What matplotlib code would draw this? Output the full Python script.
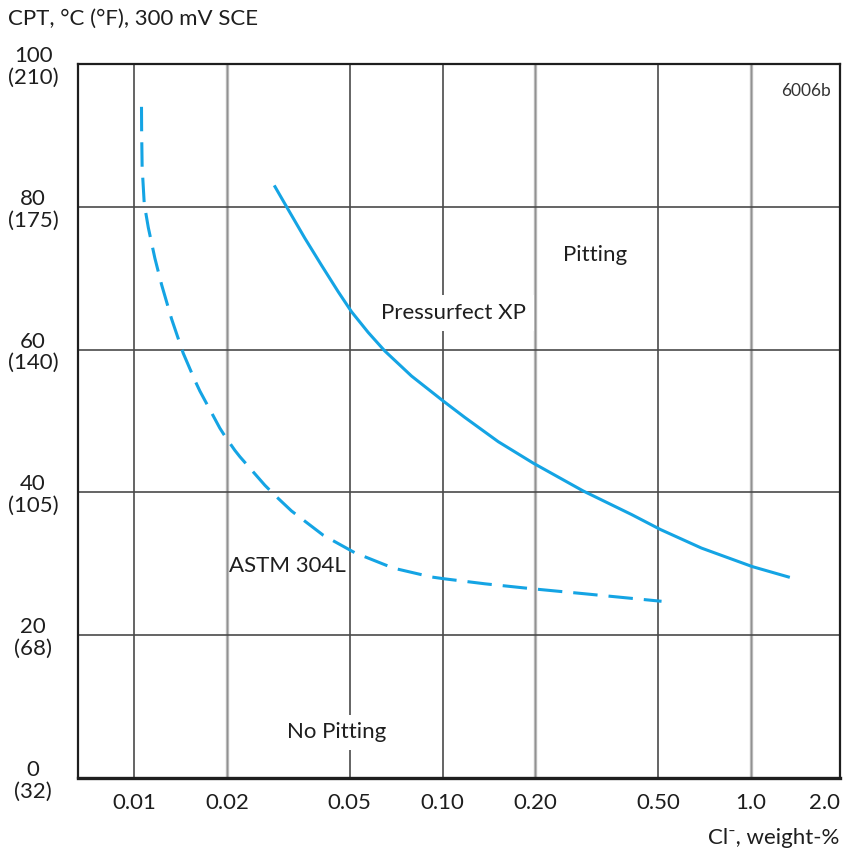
import matplotlib
matplotlib.use("Agg")
import matplotlib.pyplot as plt
from matplotlib.ticker import FixedLocator, NullLocator

plt.rcParams['font.family'] = ['Lato', 'DejaVu Sans']

# ---- data ----
xp_cl = [0.02847, 0.03161, 0.03578, 0.04053, 0.04590, 0.05070, 0.05742, 0.06501,
         0.07932, 0.1005, 0.1181, 0.1516, 0.1968, 0.2858, 0.4100, 0.5087,
         0.6910, 1.011, 1.336]
xp_cpt = [83.0, 79.6, 75.6, 71.8, 68.1, 65.3, 62.4, 59.8,
          56.3, 52.8, 50.5, 47.1, 44.1, 40.2, 36.9, 34.8,
          32.2, 29.6, 28.1]

astm_cl = [0.01057, 0.01058, 0.01062, 0.01079, 0.01112, 0.01168, 0.01228, 0.01323,
           0.01443, 0.01574, 0.01634, 0.01897, 0.01969, 0.02121, 0.02203, 0.02655,
           0.02860, 0.03239, 0.04105, 0.05195, 0.06920, 0.09211, 0.1013, 0.1371,
           0.1957, 0.2892, 0.5128]
astm_cpt = [94.0, 90.8, 85.6, 80.4, 77.1, 72.8, 69.1, 64.3,
            59.5, 55.7, 54.2, 49.0, 47.9, 45.9, 45.0, 41.0,
            39.6, 37.4, 34.0, 31.55, 29.4, 28.15, 27.9, 27.2,
            26.5, 25.8, 24.75]

x_ticks = [0.01, 0.02, 0.05, 0.10, 0.20, 0.50, 1.0, 2.0]
x_labels = ['0.01', '0.02', '0.05', '0.10', '0.20', '0.50', '1.0', '2.0']
y_ticks = [0, 20, 40, 60, 80, 100]
y_labels = ['0\n(32)', '20\n(68)', '40\n(105)', '60\n(140)', '80\n(175)', '100\n(210)']
dark_vgrid = [0.01, 0.05, 0.10, 0.50]
light_vgrid = [0.02, 0.20, 1.0]
hgrid = [20, 40, 60, 80]

blue = '#14A4E4'
ink = '#1e1e1e'
fs = 16

fig = plt.figure(figsize=(8.43, 8.52), dpi=100)
ax = fig.add_axes([78/843, 1-778/852, (840-78)/843, (778-64)/852])
ax.set_xscale('log')
xmin, xmax = 0.00658, 1.943
ax.set_xlim(xmin, xmax)
ax.set_ylim(0, 100)

for v in light_vgrid:
    ax.axvline(v, color='#b8b8b8', lw=2.4, zorder=1)
    ax.axvline(v, color='#8a8a8a', lw=0.6, zorder=1)
for v in dark_vgrid:
    ax.axvline(v, color='#4a4a4a', lw=1.2, zorder=1)
for h in hgrid:
    ax.axhline(h, color='#4a4a4a', lw=1.2, zorder=1)

lw = 2.2
ax.plot(xp_cl, xp_cpt, color=blue, lw=lw, solid_capstyle='butt',
        solid_joinstyle='round', zorder=3)
ax.plot(astm_cl, astm_cpt, color=blue, lw=lw, linestyle=(0, (8.0, 3.6)),
        dash_capstyle='butt', dash_joinstyle='round', zorder=3)

# last label ("2.0") sits at the right edge of the axes
tick_pos = x_ticks[:-1] + [xmax]
ax.xaxis.set_major_locator(FixedLocator(tick_pos))
ax.xaxis.set_minor_locator(NullLocator())
ax.set_xticklabels(x_labels)
ax.set_yticks(y_ticks)
ax.set_yticklabels(y_labels, linespacing=1.1)
ax.tick_params(axis='both', length=0, labelsize=fs, colors=ink)
ax.tick_params(axis='x', pad=11)
for lab in ax.get_yticklabels():
    lab.set_horizontalalignment('center')
    lab.set_x(-40/762)
xl = ax.get_xticklabels()
xl[-1].set_horizontalalignment('right')

for s in ['left', 'top', 'right']:
    ax.spines[s].set_linewidth(1.6)
    ax.spines[s].set_color(ink)
ax.spines['bottom'].set_linewidth(2.4)
ax.spines['bottom'].set_color(ink)

fig.text(8/843, 1-19/852, 'CPT, °C (°F), 300 mV SCE', fontsize=fs, color=ink,
         ha='left', va='center')
fig.text(839/843, 1-838/852, 'Cl⁻, weight-%', fontsize=fs, color=ink,
         ha='right', va='center')
ax.text(0.988, 0.962, '6006b', transform=ax.transAxes, fontsize=12.5, color='#333333',
        ha='right', va='center')

box = dict(boxstyle='square,pad=0.35', fc='white', ec='none')
ax.text(0.3133, 73.2, 'Pitting', fontsize=fs, ha='center', va='center', color=ink,
        bbox=box, zorder=4)
ax.text(0.1086, 65.1, 'Pressurfect XP', fontsize=fs, ha='center', va='center', color=ink,
        bbox=box, zorder=4)
ax.text(0.03145, 29.7, 'ASTM 304L', fontsize=fs, ha='center', va='center', color=ink,
        zorder=4)
ax.text(0.0455, 6.4, 'No Pitting', fontsize=fs, ha='center', va='center', color=ink,
        bbox=box, zorder=4)

fig.savefig('out.png', dpi=100)
